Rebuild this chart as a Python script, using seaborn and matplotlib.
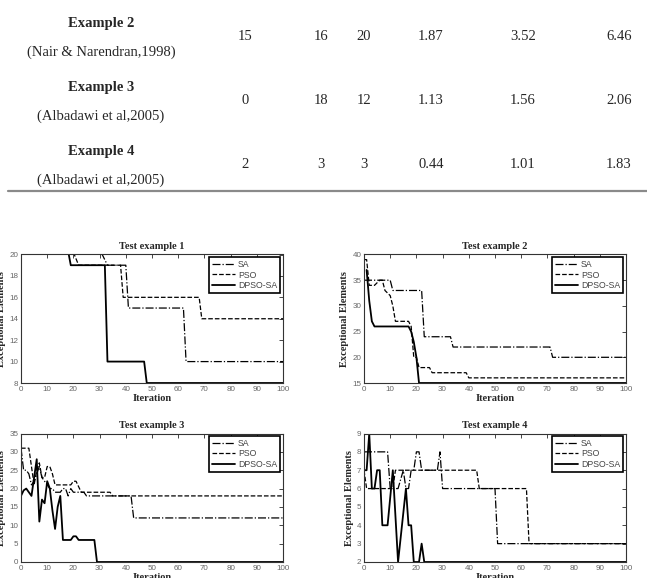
import numpy as np
import pandas as pd
import matplotlib
matplotlib.use("Agg")
import matplotlib.pyplot as plt
from matplotlib.lines import Line2D
import seaborn as sns

# Table fragment (top of the page)
examples = ["Example 2", "Example 3", "Example 4"]
citations = ["(Nair & Narendran,1998)", "(Albadawi et al,2005)", "(Albadawi et al,2005)"]
col_a = ["15", "0", "2"]
col_b = ["16", "18", "3"]
col_c = ["20", "12", "3"]
col_d = ["1.87", "1.13", "0.44"]
col_e = ["3.52", "1.56", "1.01"]
col_f = ["6.46", "2.06", "1.83"]

# Convergence curves, one set of arrays per test example
t1_sa_x = [0, 31, 33, 40, 41, 62, 63, 100]
t1_sa_y = [21, 20, 19, 19, 15, 15, 10, 10]
t1_pso_x = [0, 20, 22, 38, 39, 68, 69, 100]
t1_pso_y = [21, 20.2, 19, 19, 16, 16, 14, 14]
t1_dp_x = [0, 18, 19, 32, 33, 47, 48, 100]
t1_dp_y = [21, 20.3, 19, 19, 10, 10, 8, 8]

t2_sa_x = [0, 10, 11, 22, 23, 33, 34, 71, 72, 100]
t2_sa_y = [35, 35, 33, 33, 24, 24, 22, 22, 20, 20]
t2_pso_x = [0, 1, 2, 4, 6, 7, 8, 10, 11, 12, 17, 18, 19, 20, 21, 25, 26, 39, 40, 100]
t2_pso_y = [39, 39, 34, 34, 35, 35, 33, 32, 30, 27, 27, 26, 20, 20, 18, 18, 17, 17, 16, 16]
t2_dp_x = [1, 2, 3, 4, 17, 18, 19, 20, 21, 100]
t2_dp_y = [37, 31, 27, 26, 26, 25, 23, 20, 15, 15]

t3_sa_x = [0, 1, 2, 3, 4, 5, 6, 7, 8, 9, 10, 11, 12, 13, 15, 16, 17, 18, 19, 20, 24, 25, 42, 43, 100]
t3_sa_y = [31, 25, 25, 24, 21, 22, 24, 26, 23, 22, 21, 20, 20, 19, 19, 20, 20, 18, 20, 19, 19, 18, 18, 12, 12]
t3_pso_x = [0, 3, 4, 5, 6, 7, 8, 9, 10, 11, 12, 13, 19, 20, 21, 23, 34, 35, 100]
t3_pso_y = [31, 31, 26, 21, 25, 27, 23, 23, 26, 26, 24, 21, 21, 22, 22, 19, 19, 18, 18]
t3_dp_x = [0, 1, 2, 3, 4, 5, 6, 7, 8, 9, 10, 11, 12, 13, 14, 15, 16, 19, 20, 21, 22, 28, 29, 100]
t3_dp_y = [18, 19.5, 20, 19, 18, 23, 28, 11, 17, 16, 22, 20, 14, 9, 15, 18, 6, 6, 7, 7, 6, 6, 0, 0]

t4_sa_x = [0, 9, 10, 13, 15, 16, 17, 18, 19, 20, 21, 22, 28, 29, 30, 50, 51, 63, 100]
t4_sa_y = [8, 8, 6, 6, 7, 6, 6, 7, 7, 8, 8, 7, 7, 8, 6, 6, 3, 3, 3]
t4_pso_x = [0, 1, 11, 12, 43, 44, 62, 63, 100]
t4_pso_y = [7, 6, 6, 7, 7, 6, 6, 3, 3]
t4_dp_x = [0, 1, 2, 3, 4, 5, 6, 7, 9, 10, 11, 13, 16, 17, 18, 19, 21, 22, 23, 100]
t4_dp_y = [7, 7, 9, 6, 6, 7, 7, 4, 4, 5.5, 7, 2, 6, 4, 4, 2, 2, 3, 2, 2]

titles = ["Test example 1", "Test example 2", "Test example 3", "Test example 4"]
ylims = [(8, 20), (15, 40), (0, 35), (2, 9)]
yticks = [np.arange(8, 21, 2), np.arange(15, 41, 5), np.arange(0, 36, 5), np.arange(2, 10, 1)]
series = [
    [(t1_sa_x, t1_sa_y), (t1_pso_x, t1_pso_y), (t1_dp_x, t1_dp_y)],
    [(t2_sa_x, t2_sa_y), (t2_pso_x, t2_pso_y), (t2_dp_x, t2_dp_y)],
    [(t3_sa_x, t3_sa_y), (t3_pso_x, t3_pso_y), (t3_dp_x, t3_dp_y)],
    [(t4_sa_x, t4_sa_y), (t4_pso_x, t4_pso_y), (t4_dp_x, t4_dp_y)],
]
names = ["SA", "PSO", "DPSO-SA"]
styles = [("-.", 0.9), ("--", 0.9), ("-", 1.3)]

sns.set_style("white")
plt.rcParams['font.family'] = ['Liberation Sans', 'DejaVu Sans']

fig = plt.figure(figsize=(6.47, 5.78), dpi=100)
W, H = 647.0, 578.0

# ---- table fragment ----
serif = "Liberation Serif"
row_num_y = [37, 101, 165]
col_x = [245, 321, 364, 431, 523, 619]
for i in range(3):
    yc = row_num_y[i]
    fig.text(101 / W, 1 - (yc - 14) / H, examples[i], family=serif, weight="bold",
             fontsize=10.5, ha="center", va="center")
    fig.text(101 / W, 1 - (yc + 15) / H, citations[i], family=serif,
             fontsize=10.5, ha="center", va="center")
    vals = [col_a[i], col_b[i], col_c[i], col_d[i], col_e[i], col_f[i]]
    for x, v in zip(col_x, vals):
        fig.text(x / W, 1 - yc / H, v, family=serif, fontsize=10.5,
                 ha="center", va="center")
fig.add_artist(Line2D([8 / W, 1.0], [1 - 191 / H, 1 - 191 / H],
                      color="#8a8a8a", lw=1.6, transform=fig.transFigure))

# ---- the four convergence plots ----
boxes = [(21, 254.5), (364, 254.5), (21, 433.5), (364, 433.5)]
aw, ah = 262, 128.5
for k in range(4):
    lx, ty = boxes[k]
    ax = fig.add_axes([lx / W, 1 - (ty + ah) / H, aw / W, ah / H])
    for (xs, ys), name, (ls, lw) in zip(series[k], names, styles):
        df = pd.DataFrame({"Iteration": xs, "val": ys})
        sns.lineplot(data=df, x="Iteration", y="val", estimator=None, sort=False,
                     color="black", linestyle=ls, linewidth=lw, label=name, ax=ax)
    ax.set_xlim(0, 100)
    ax.set_ylim(*ylims[k])
    ax.set_xticks(np.arange(0, 101, 10))
    ax.set_yticks(yticks[k])
    ax.tick_params(direction="in", length=3, width=0.6, labelsize=5.8,
                   labelcolor="#666666", top=True, right=True, pad=2)
    for s in ax.spines.values():
        s.set_color("#333333")
        s.set_linewidth(0.8)
    ax.set_title(titles[k], family=serif, weight="bold", fontsize=7.5, pad=4)
    ax.set_xlabel("Iteration", family=serif, weight="bold", fontsize=7.5, labelpad=1)
    ax.set_ylabel("Exceptional Elements", family=serif, weight="bold", fontsize=7.5, labelpad=2)
    leg = ax.legend(loc="upper right", fontsize=6.3, handlelength=2.6, handletextpad=0.4,
                    labelspacing=0.15, borderpad=0.35, borderaxespad=0.3,
                    fancybox=False, framealpha=1)
    leg.get_frame().set_edgecolor("black")
    leg.get_frame().set_linewidth(1.2)
    for t in leg.get_texts():
        t.set_color("#444444")

fig.savefig("out.png", dpi=100)
